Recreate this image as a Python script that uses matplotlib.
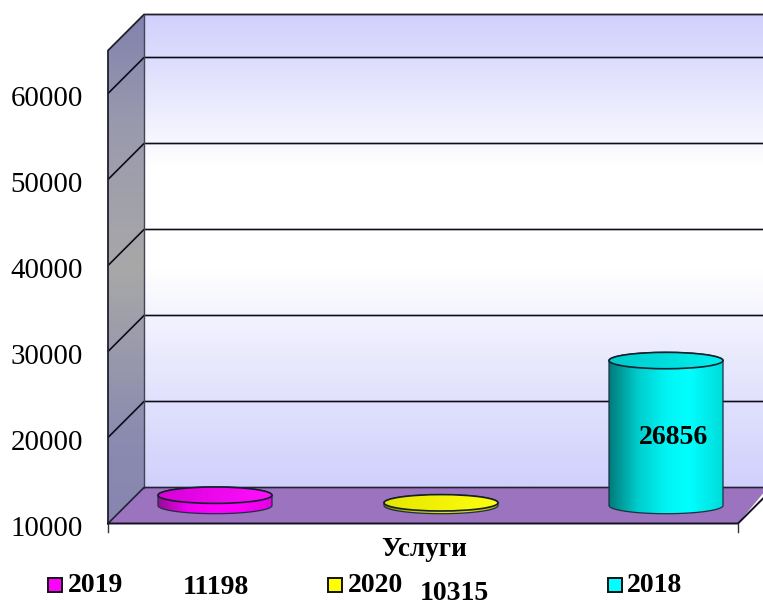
import numpy as np
import matplotlib
matplotlib.use("Agg")
import matplotlib.pyplot as plt
from matplotlib.colors import LinearSegmentedColormap as LSC
from matplotlib.patches import Ellipse, Polygon, Rectangle

plt.rcParams['font.family'] = ['Liberation Serif', 'DejaVu Serif']

# ---- data ----
categories = ['2019', '2020', '2018']
values = [11198, 10315, 26856]
value_labels = ['11198', '10315', '26856']
yticks = [10000, 20000, 30000, 40000, 50000, 60000]
xlabel = 'Услуги'

# ---- geometry (pixel-based layout, value scale on y) ----
W, H = 763, 605
Y0, PX = 523.5, 86 / 10000        # pixel row of 10000, pixels per unit
def v(px_y):                      # pixel row -> value
    return 10000 + (Y0 - px_y) / PX
DEPTH = 36 / PX
XL, XB, XR, XF = 108, 144, 768, 738
VMIN, VMAX = 10000, 65000
centers = [215, 441, 666]
HALF = 57
RY = 8.2 / PX
BASE = 18 / PX                    # floor-to-bar-base offset

fig = plt.figure(figsize=(W / 100, H / 100), dpi=100, facecolor='white')
ax = fig.add_axes([0, 0, 1, 1])
ax.set_xlim(0, W)
ax.set_ylim(v(H), v(0))
ax.axis('off')

def grad(patch, colors, extent, vertical=True, z=1.0):
    cmap = LSC.from_list('g', colors)
    arr = np.linspace(0, 1, 256)
    arr = arr[:, None] if vertical else arr[None, :]
    im = ax.imshow(arr, cmap=cmap, extent=extent, origin='lower', aspect='auto',
                   zorder=z, interpolation='bilinear', vmin=0, vmax=1)
    patch.set_facecolor('none')
    patch.set_edgecolor('none')
    ax.add_patch(patch)
    im.set_clip_path(patch)

# back wall
grad(Polygon([(XB, VMIN + DEPTH), (XR, VMIN + DEPTH), (XR, VMAX + DEPTH), (XB, VMAX + DEPTH)], closed=True),
     [(0.0, '#D0D0FC'), (0.30, '#ECECFE'), (0.46, '#FFFFFF'), (0.68, '#FFFFFF'), (0.84, '#E6E6FE'), (1.0, '#D0D0FC')],
     [XB, XR, VMIN + DEPTH, VMAX + DEPTH], z=1)

# left wall
grad(Polygon([(XL, VMIN), (XB, VMIN + DEPTH), (XB, VMAX + DEPTH), (XL, VMAX)], closed=True),
     [(0.0, '#8585B0'), (0.18, '#8C8CB0'), (0.5, '#A8A8A8'), (0.78, '#9A9AAE'), (1.0, '#8282AE')],
     [XL, XB, VMIN, VMAX + DEPTH], z=1)

# gridlines
for t in yticks[1:]:
    ax.plot([XL, XB, XR], [t, t + DEPTH, t + DEPTH], color='#0c0c1c', lw=1.2, zorder=2,
            solid_capstyle='butt')
# floor
ax.add_patch(Polygon([(XL, VMIN), (XB, VMIN + DEPTH), (XR, VMIN + DEPTH), (XF, VMIN)],
                     closed=True, fc='#9B73BE', ec='none', zorder=2.2))
# frame edges
ax.plot([XL, XL, XB, XR], [VMIN, VMAX, VMAX + DEPTH, VMAX + DEPTH], color='#20202e', lw=1.3, zorder=2.3)
ax.plot([XB, XB], [VMIN + DEPTH, VMAX + DEPTH], color='#444455', lw=1, zorder=2.3)
ax.plot([XL, XB, XR], [VMIN, VMIN + DEPTH, VMIN + DEPTH], color='#222233', lw=1.2, zorder=2.3)
ax.plot([XL, XF, XF + 29], [VMIN, VMIN, VMIN + 29 / 36 * DEPTH], color='#111122', lw=1.4, zorder=2.3)
for x in (XL, XF):
    ax.plot([x, x], [VMIN, VMIN - 8 / PX], color='#333333', lw=1, zorder=2.3)

# cylinders
side_cols = [
    ['#9A0A9A', '#F000F0', '#FF00FF', '#FF00FF', '#E400E4'],
    ['#7A7A00', '#C4C400', '#E0E000', '#E0E000', '#B0B000'],
    ['#007A7A', '#00CCCC', '#00F4F4', '#00FFFF', '#00DCDC'],
]
top_cols = [('#D800D8', '#FF10FF'), ('#E6E600', '#FFFF10'), ('#00CACA', '#00F0F0')]
stops = [0.0, 0.25, 0.5, 0.7, 1.0]
for cx, val, sc, tc in zip(centers, values, side_cols, top_cols):
    base = VMIN + BASE
    top = base + (val - VMIN)
    th = np.linspace(np.pi, 2 * np.pi, 60)
    th2 = np.linspace(0, np.pi, 60)
    xs = cx + HALF * np.cos(th)
    bot_y = base + RY * np.sin(th)
    pts = list(zip(xs, bot_y)) + list(zip(cx + HALF * np.cos(th2), top + RY * np.sin(th2)))
    grad(Polygon(pts, closed=True), list(zip(stops, sc)),
         [cx - HALF, cx + HALF, base - RY, top + RY], vertical=False, z=3)
    ax.add_patch(Polygon(pts, closed=True, fc='none', ec='#1c3040', lw=0.9, zorder=3.2))
    grad(Ellipse((cx, top), 2 * HALF, 2 * RY),
         [(0.0, tc[0]), (1.0, tc[1])], [cx - HALF, cx + HALF, top - RY, top + RY], vertical=False, z=3.3)
    ax.add_patch(Ellipse((cx, top), 2 * HALF, 2 * RY, fc='none', ec='#14202c', lw=1.2, zorder=3.4))

# bar value label inside last cylinder
ax.text(centers[2] + 7, v(437), value_labels[2], ha='center', va='center', fontsize=20,
        fontweight='bold', color='black', zorder=5)

# y tick labels
for t in yticks:
    ax.text(47, t - 5 / PX, str(t), ha='center', va='center', fontsize=20.8, color='black')

# axis title
ax.text(424, v(549), xlabel, ha='center', va='center', fontsize=19.5, fontweight='bold')

# legend and loose value labels
leg_sq = [48, 328, 608]
leg_tx = [68, 348, 627]
for sx, tx, name, col in zip(leg_sq, leg_tx, categories, ['#FF00FF', '#FFFF00', '#00FFFF']):
    ax.add_patch(Rectangle((sx, v(592)), 14, 14 / PX, fc=col, ec='#111111', lw=1.4, zorder=4))
    ax.text(tx, v(586), name, ha='left', va='center', fontsize=20, fontweight='bold')
ax.text(216, v(587), value_labels[0], ha='center', va='center', fontsize=20, fontweight='bold')
ax.text(454, v(594), value_labels[1], ha='center', va='center', fontsize=20, fontweight='bold')

fig.savefig('out.png', dpi=100, facecolor='white')
